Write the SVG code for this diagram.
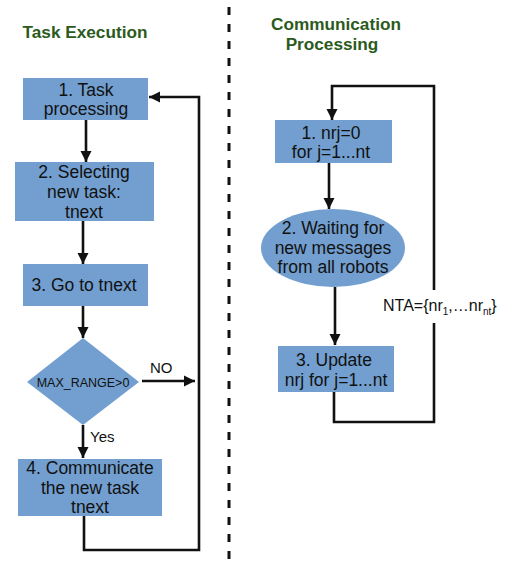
<svg xmlns="http://www.w3.org/2000/svg" width="518" height="564" viewBox="0 0 518 564">
<defs>
<style>
.t{font-family:"Liberation Sans",Arial,sans-serif;font-size:17.5px;fill:#111;text-anchor:middle}
.small{font-size:12.5px}
.title{font-family:"Liberation Sans",Arial,sans-serif;font-size:17.2px;font-weight:bold;fill:#2b5a1c;text-anchor:middle}
.box{fill:#729fcf}
.ln{fill:none;stroke:#111;stroke-width:2.6;stroke-linejoin:miter}
.lbl{font-family:"Liberation Sans",Arial,sans-serif;font-size:16px;fill:#111}
.lbl2{font-family:"Liberation Sans",Arial,sans-serif;font-size:15px;fill:#111}
</style>
<marker id="ah" viewBox="0 0 10 10" refX="10" refY="5" markerWidth="4.4" markerHeight="4.4" markerUnits="strokeWidth" orient="auto">
<path d="M0,0 L10,5 L0,10 z" fill="#111"/>
</marker>
</defs>
<rect width="518" height="564" fill="#fff"/>
<line x1="229" y1="7" x2="229" y2="560" stroke="#111" stroke-width="3" stroke-dasharray="8,9"/>
<text class="title" x="85" y="38">Task Execution</text>
<text class="title" x="336" y="30">Communication</text>
<text class="title" x="332" y="50">Processing</text>

<g id="connectors">
<line class="ln" x1="86" y1="120" x2="86" y2="162" marker-end="url(#ah)"/>
<line class="ln" x1="83" y1="221" x2="83" y2="264" marker-end="url(#ah)"/>
<line class="ln" x1="83" y1="306" x2="83" y2="338" marker-end="url(#ah)"/>
<line class="ln" x1="83" y1="425" x2="83" y2="458" marker-end="url(#ah)"/>
<line class="ln" x1="142" y1="381" x2="195" y2="381" marker-end="url(#ah)"/>
<polyline class="ln" points="84,516 84,550 199,550 199,97 149,97" marker-end="url(#ah)"/>
<text class="lbl2" x="150" y="373">NO</text>
<text class="lbl2" x="90" y="442">Yes</text>

<polyline class="ln" points="434,290 434,86 332,86 332,120" marker-end="url(#ah)"/>
<polyline class="ln" points="334,392 334,422 434,422 434,323"/>
<line class="ln" x1="329" y1="163" x2="329" y2="209" marker-end="url(#ah)"/>
<line class="ln" x1="335" y1="287" x2="335" y2="345" marker-end="url(#ah)"/>
<text class="lbl" x="383" y="311">NTA={nr<tspan font-size="10" dy="4">1</tspan><tspan dy="-4">,…nr</tspan><tspan font-size="10" dy="4">nt</tspan><tspan dy="-4">}</tspan></text>
</g>

<g id="n1">
<rect class="box" x="23" y="78" width="125" height="42"/>
<text class="t" x="86" y="96">1. Task</text>
<text class="t" x="86" y="115">processing</text>
</g>
<g id="n2">
<rect class="box" x="15" y="162" width="139" height="59"/>
<text class="t" x="84" y="178">2. Selecting</text>
<text class="t" x="84" y="198">new task:</text>
<text class="t" x="84" y="218">tnext</text>
</g>
<g id="n3">
<rect class="box" x="23" y="264" width="125" height="42"/>
<text class="t" x="84" y="291">3. Go to tnext</text>
</g>
<g id="n4">
<polygon class="box" points="83,338 139,382 83,425 27,382"/>
<text class="t small" x="83" y="386.5">MAX_RANGE&gt;0</text>
</g>
<g id="n5">
<rect class="box" x="18" y="459" width="144" height="57"/>
<text class="t" x="90" y="474">4. Communicate</text>
<text class="t" x="90" y="494">the new task</text>
<text class="t" x="90" y="513">tnext</text>
</g>
<g id="r1">
<rect class="box" x="275" y="120" width="117" height="43"/>
<text class="t" x="331" y="139">1. nrj=0</text>
<text class="t" x="331" y="158">for j=1...nt</text>
</g>
<g id="r2">
<ellipse class="box" cx="333" cy="248" rx="72" ry="39"/>
<text class="t" x="333" y="234">2. Waiting for</text>
<text class="t" x="333" y="254">new messages</text>
<text class="t" x="333" y="273">from all robots</text>
</g>
<g id="r3">
<rect class="box" x="278" y="346" width="116" height="46"/>
<text class="t" x="334" y="366">3. Update</text>
<text class="t" x="336" y="386">nrj for j=1...nt</text>
</g>
</svg>
